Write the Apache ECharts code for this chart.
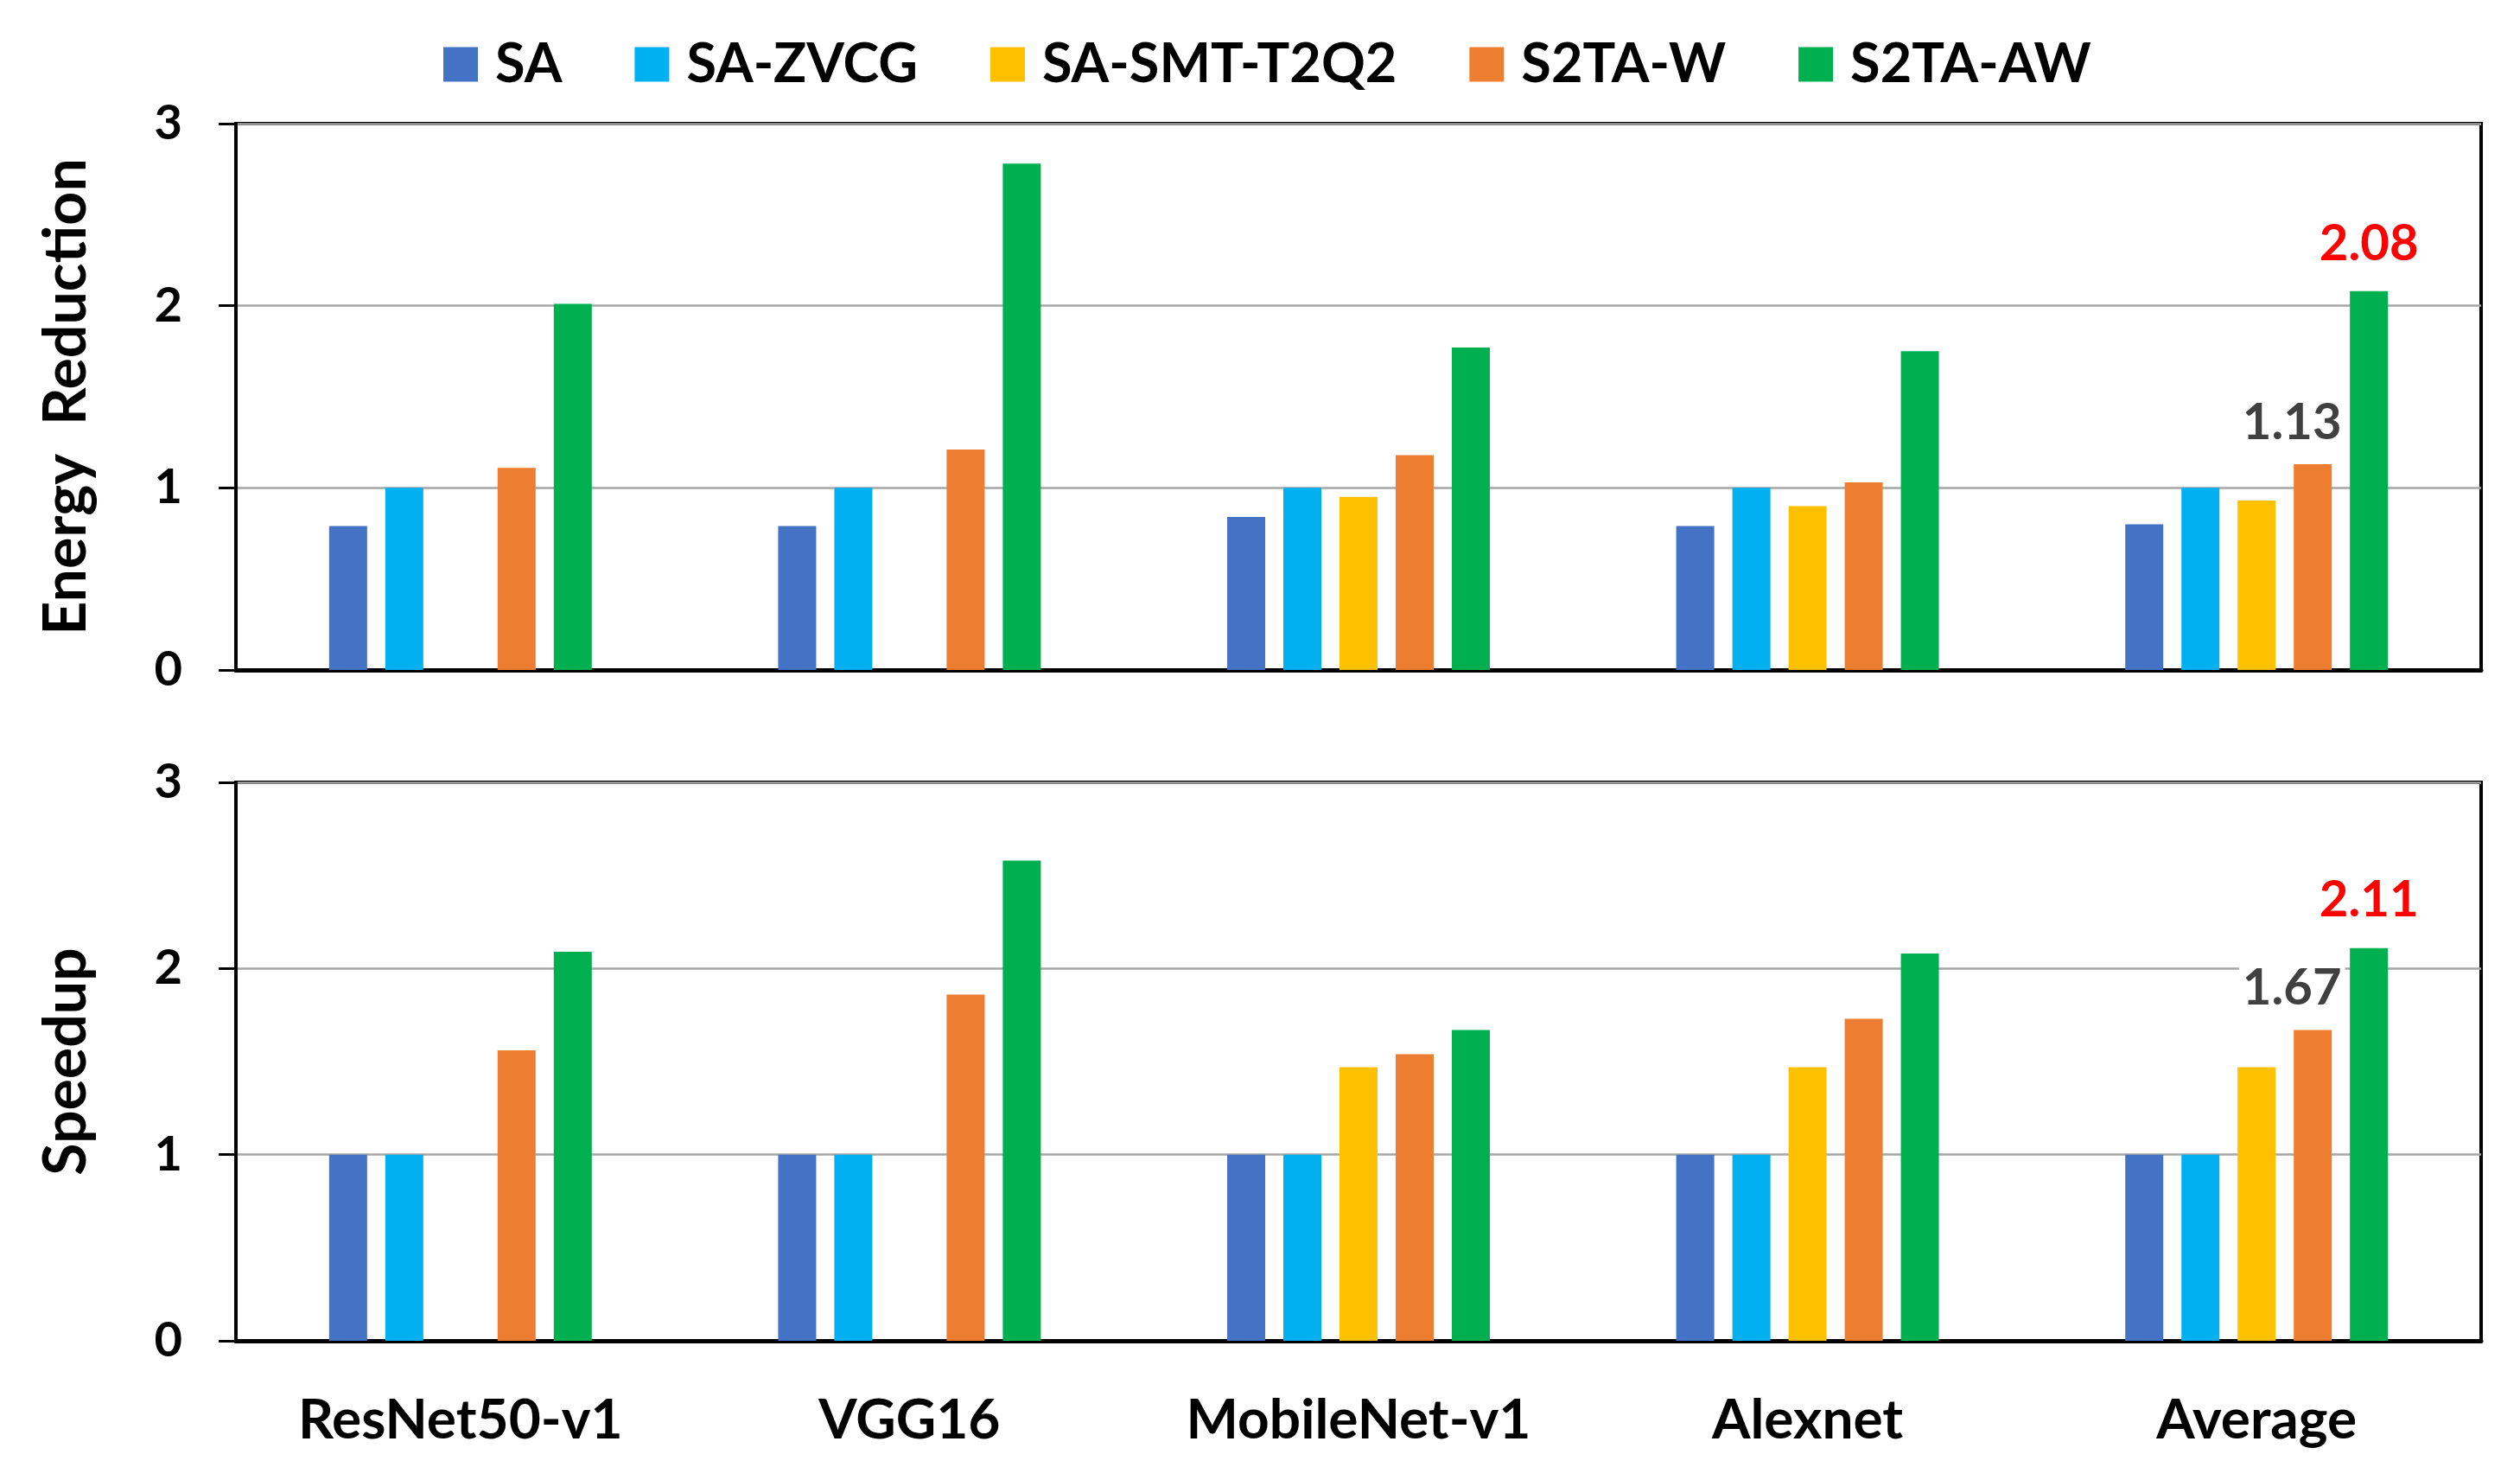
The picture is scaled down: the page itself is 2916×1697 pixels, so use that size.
<!DOCTYPE html>
<html>
<head>
<meta charset="utf-8">
<script src="https://cdn.jsdelivr.net/npm/echarts@6/dist/echarts.min.js"></script>
<style>
  html, body { margin: 0; padding: 0; background: #fff; }
  #chart { width: 2916px; height: 1697px; }
</style>
</head>
<body>
<div id="chart"></div>
<script>
// ---- data ----
const categories = ['ResNet50-v1', 'VGG16', 'MobileNet-v1', 'Alexnet', 'Average'];
const seriesNames = ['SA', 'SA-ZVCG', 'SA-SMT-T2Q2', 'S2TA-W', 'S2TA-AW'];
const energySA   = [0.79, 0.79, 0.84, 0.79, 0.80];
const energyZVCG = [1.00, 1.00, 1.00, 1.00, 1.00];
const energySMT  = [null, null, 0.95, 0.90, 0.93];
const energyW    = [1.11, 1.21, 1.18, 1.03, 1.13];
const energyAW   = [2.01, 2.78, 1.77, 1.75, 2.08];
const speedSA    = [1.00, 1.00, 1.00, 1.00, 1.00];
const speedZVCG  = [1.00, 1.00, 1.00, 1.00, 1.00];
const speedSMT   = [null, null, 1.47, 1.47, 1.47];
const speedW     = [1.56, 1.86, 1.54, 1.73, 1.67];
const speedAW    = [2.09, 2.58, 1.67, 2.08, 2.11];
const yTickValues = [0, 1, 2, 3];
const yTitles = ['Energy  Reduction', 'Speedup'];
const highlightIndex = 4; // Average

// ---- styling ----
const colors = ['#4472C4', '#00B0F0', '#FFC000', '#ED7D31', '#00B050'];
const FONT = 'Lato';

function withLabel(arr, labelColor, offsetX, dist) {
  return arr.map((v, i) => {
    if (i !== highlightIndex || v == null) return v;
    return {
      value: v,
      label: {
        show: true,
        position: 'top',
        distance: dist,
        offset: [offsetX, 0],
        formatter: (p) => Number(p.value).toFixed(2),
        fontFamily: FONT,
        fontWeight: 'bold',
        fontSize: 58,
        color: labelColor,
        backgroundColor: '#fff',
        padding: [0, 4]
      }
    };
  });
}

function buildSeries(dataSets, gridIdx) {
  return dataSets.map((d, k) => {
    let data = d;
    if (k === 3) data = withLabel(d, '#404040', -24, 19);
    if (k === 4) data = withLabel(d, '#FF0000', 0, 26);
    return {
      name: seriesNames[k],
      type: 'bar',
      xAxisIndex: gridIdx,
      yAxisIndex: gridIdx,
      data: data,
      barWidth: 44,
      barGap: '47.7%',
      itemStyle: { color: colors[k] },
      emphasis: { disabled: true },
      animation: false
    };
  });
}

function yAxisCfg(gridIdx) {
  return {
    type: 'value',
    gridIndex: gridIdx,
    min: yTickValues[0],
    max: yTickValues[yTickValues.length - 1],
    interval: 1,
    name: yTitles[gridIdx],
    nameLocation: 'middle',
    nameRotate: 90,
    nameGap: 162,
    nameTextStyle: { fontFamily: FONT, fontWeight: 'bold', fontSize: 68, color: '#000' },
    axisLine: { show: true, lineStyle: { color: '#000', width: 4 } },
    axisTick: { show: true, inside: false, length: 20, lineStyle: { color: '#000', width: 3 } },
    axisLabel: { fontFamily: FONT, fontWeight: 'bold', fontSize: 56, color: '#000', margin: 62 },
    splitLine: { show: true, lineStyle: { color: '#A6A6A6', width: 2.5 } }
  };
}

function xAxisCfg(gridIdx, showLabels) {
  return {
    type: 'category',
    gridIndex: gridIdx,
    data: categories,
    axisLine: { show: true, lineStyle: { color: '#000', width: 5 } },
    axisTick: { show: false },
    axisLabel: {
      show: showLabels,
      fontFamily: FONT, fontWeight: 'bold', fontSize: 64, color: '#000', margin: 60
    },
    splitLine: { show: false }
  };
}

const chart = echarts.init(document.getElementById('chart'), null, { renderer: 'canvas' });
chart.setOption({
  backgroundColor: '#fff',
  animation: false,
  legend: {
    data: seriesNames,
    left: 508,
    top: 38,
    itemWidth: 40,
    itemHeight: 40,
    itemGap: 84,
    icon: 'rect',
    textStyle: {
      fontFamily: FONT, fontWeight: 'bold', fontSize: 63, color: '#000',
      lineHeight: 40, padding: [0, 0, 0, 15]
    }
  },
  grid: [
    { left: 273, top: 143, width: 2598, height: 632, show: true, borderColor: '#000', borderWidth: 4, backgroundColor: 'transparent' },
    { left: 273, top: 905, width: 2598, height: 646, show: true, borderColor: '#000', borderWidth: 4, backgroundColor: 'transparent' }
  ],
  xAxis: [xAxisCfg(0, false), xAxisCfg(1, true)],
  yAxis: [yAxisCfg(0), yAxisCfg(1)],
  series: [
    ...buildSeries([energySA, energyZVCG, energySMT, energyW, energyAW], 0),
    ...buildSeries([speedSA, speedZVCG, speedSMT, speedW, speedAW], 1)
  ]
});
</script>
</body>
</html>
